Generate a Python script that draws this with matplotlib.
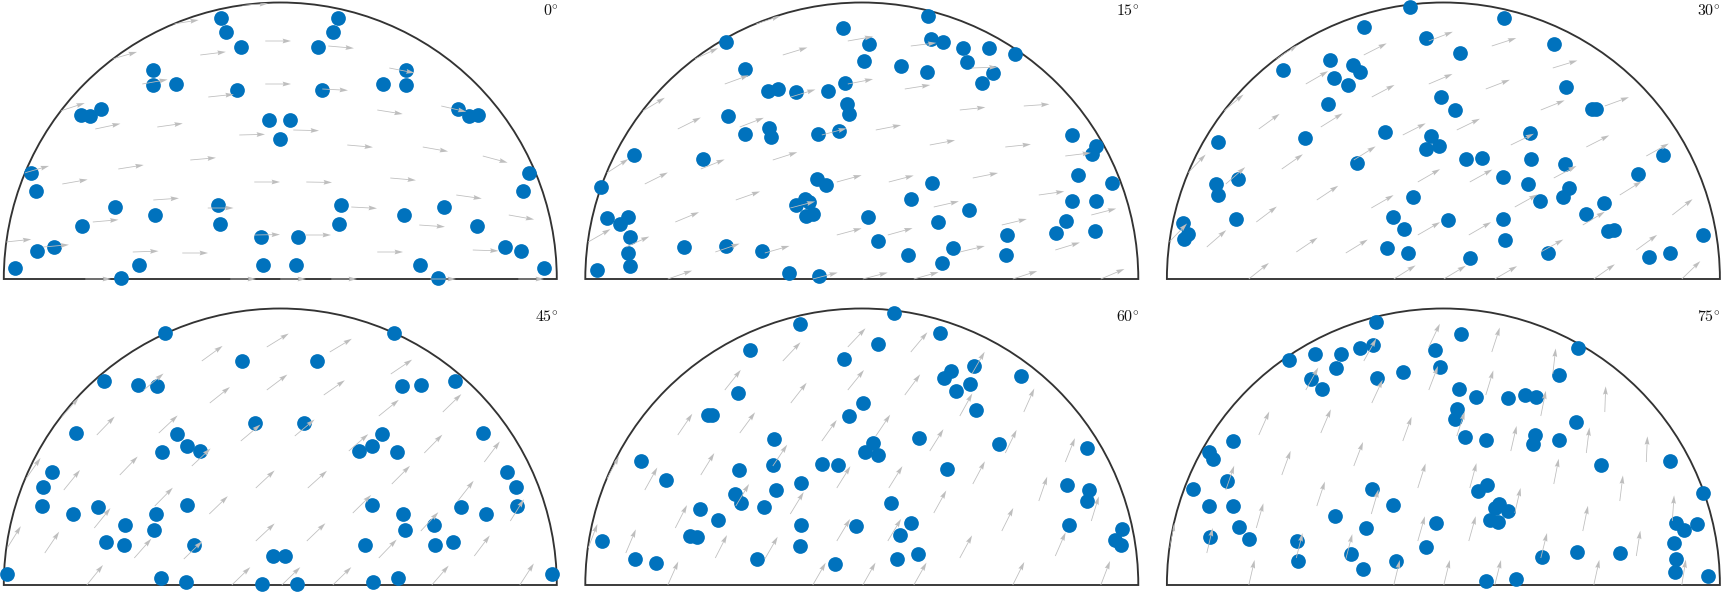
import numpy as np
import matplotlib
matplotlib.use("Agg")
import matplotlib.pyplot as plt
from matplotlib.patches import Wedge, PathPatch
from matplotlib.path import Path

plt.rcParams['mathtext.fontset'] = 'cm'

panel_labels = [r'$0^{\circ}$', r'$15^{\circ}$', r'$30^{\circ}$',
                r'$45^{\circ}$', r'$60^{\circ}$', r'$75^{\circ}$']

tail_x = [-193, -48, 2, 53, 152, 240, -145.5, -96, 99, 194.5, -235, -272.6, -24, 27, 141, -185.5, 230.5,
          -70.5, 73, 178, -125, 112, 28, -24, -216, -160, -88, -254, 69, 144.5, 204.5, -39, 15, -121, -183,
          -218, 99, 163, -70, -13, 44, -136, 111, -78, 50, -13, -166, -105, -36]
tail_y = [0, 0, 0, 0, 0, 0, 27, 26, 27, 29, 32, 37, 44, 44, 54, 57, 64,
          71, 72, 84, 79, 101, 97, 97, 95, 110, 119, 106, 134, 132, 123, 144, 149, 152, 150,
          168, 169, 173, 182, 195, 190, 195, 211, 224, 233, 238, 220, 255, 274]
nan = float('nan')
angles_0 = [0, 0, 0, 0, 0, 0, 2, 0, 0, -2, 5, 6, 1, 0, -4, 5, -10,
            0, -3, -8, 4, -5, -1, 0, 10, 9, 5, 16, -5, -10, -15, 1.5, -1.5, 8, 12,
            18, -9, -13, 6, 0, -3, 10, -11, 7, -5, 0, 16, 9, 3]
angles_15 = [19, 14.5, 14.5, 15.5, 18, 23, 19, 16, 13.5, 17, 24, 30, 15, 15.5, 13.5, 22.5, 14.5,
             14.8, 12.8, 8, 19.4, 11.3, 14.6, 15.3, 26.6, 21.8, 17.7, 33, 10.6, 6, 7, 15, 11, 21, 26.6,
             31, 6, 4, 17, 11, 9, 20, 2, 17, 7, 10, 25, 18, nan]
angles_30 = [38.6, 32, 31, 30, 35, 44, 34, 31.5, 29, 36, 41, 46, 30, 30, 31, 37, 38,
             30, 29, 32, 33.6, 28, 29, 30, 41, 35, 32, 46, 26, 27, 29, 27, 26, 32, 36,
             40, 22, 20, 28, 23, 21, 30, 17, 27, 18, 21, 32.5, nan, nan]
angles_45 = [51, 44, 44, 44, 49, 57, 48.6, 44, 46, 53, 56, 58, 43, 43.7, 47, 51, 58,
             44, 44.5, 52, 45.5, 45, 42, 43, 51, 46, 43, 55, 41, 45.5, 53, 40, 40, 43, 46,
             49, 39, 44, 38.5, 37, 35, 40, 34, 36, 31, 31.6, nan, nan, nan]
angles_60 = [66, 60, 60.5, 60.5, 63.5, 69, 63, 60, 61.5, 66.4, 67, 69, 59, 59, 63.5, 63, 73,
             58.6, 61, 71, 59, 62, 58, 58, 61, 58.4, 56, 62, 58, 64, 68, 54.6, 56, 53.6, 55.7,
             nan, 61, 66, 52, 51, 53.4, 51.5, 60, 46.6, 50, 46.6, nan, nan, nan]
angles_75 = [77, 76.4, 76.4, 76, 77.6, 81, 76, 75.4, 76, 81, 76.7, 78, 74, 74.4, 78.4, 74, 86,
             73.7, 77, 83, 71.7, 79, 75, 72.4, 71, 70, 69, nan, 77, 83, 87.5, 70, 72, 67, 66,
             nan, 78.7, 88, 65, 69, 73, 61, 83.5, 61, 72, 64.6, nan, nan, nan]
arrow_angles = [angles_0, angles_15, angles_30, angles_45, angles_60, angles_75]
arrow_length = 25.7

x0 = [-59, -54, -39, 58, 53, 38, -127, -127, -104, 126, 126, 103, -43, 42, -199, -190, -179, 178, 189, 198,
      -11, 10, 0, -249, -244, 243, 249, -165, -125, -62, -60, -198, -19, 18, 61, 59, 124, 164, 197, -243, -226,
      225, 241, -265, -159, -141, -17, 16, 140, 158, 264]
y0 = [261, 247, 232, 261, 247, 232, 209, 194, 195, 209, 194, 195, 189, 189, 164, 163, 170, 170, 163, 164,
      159, 159, 140, 106, 88, 88, 106, 72, 64, 74, 55, 53, 42, 42, 74, 55, 64, 72, 53, 28, 32,
      32, 28, 11, 1, 14, 14, 14, 14, 1, 11]
x15 = [67.5, -17.5, -134.5, 8.5, 70.5, 82.5, 102.5, 128.5, 154.5, 3.5, 40.5, 66.5, 106.5, 132.5, 121.5, -115.5,
       -92.5, -82.5, -64.5, -32.5, -15.5, -13.5, -11.5, -132.5, -91.5, -89.5, -115.5, -42.5, -21.5, -226.5, -157.5,
       -259.5, -43.5, -34.5, 71.5, 50.5, 108.5, 7.5, 77.5, -64.5, -55.5, -52, -55, -48, -253.5, -240.5, -232.5,
       -230.5, -232.5, -176.5, -134.5, -98.5, 17.5, 47.5, 92.5, 146.5, 145.5, -264, -231, -72, -42, 81,
       195, 205, 234, 211, 235, 211, 231, 235, 217, 251]
y15 = [263, 251, 237, 235, 240, 237, 231, 231, 225, 218, 213, 207, 217, 206, 196, 210,
       188, 190, 187, 188, 196, 175, 165, 163, 151, 142, 145, 145, 148, 124, 120,
       92, 100, 94, 96, 80, 69, 62, 57, 74, 80, 77, 63, 65, 61, 55, 62,
       42, 26, 32, 33, 28, 38, 24, 31, 44, 24, 9, 13, 6, 3, 16,
       46, 58, 48, 78, 78, 144, 125, 133, 104, 96]
x30 = [-32, -78, 62, -16, 18, 112, -159, -112, -89, -82, -108, -94, -114, -1, 13, 124, 150, 154, -224, -137,
       -57, 88, -11, -3, -16, 221, -85, 24, 40, 89, 123, -204, -226, -224, 61, 196, 86, 127, 121, -29, 98, 162,
       -206, -49, 6, 61, 144, -38, 166, 172, 261, -259, -254, -258, 63, -55, -34, 28, 106, 207, 228]
y30 = [272, 252, 261, 241, 226, 235, 209, 219, 214, 207, 201, 194, 175, 182, 169, 192, 170, 170, 137, 141,
       147, 146, 143, 133, 130, 124, 116, 120, 121, 120, 115, 100, 95, 84, 102, 105, 95, 91, 82, 82, 78, 76,
       60, 62, 59, 60, 65, 50, 48, 49, 44, 56, 45, 40, 39, 31, 26, 21, 26, 22, 26]
x45 = [-115, 114, -38, 37, -176, -142, -123, 122, 141, 175, -204, 203, -25, 24, -103, -93, -80, -118, 102, 92, 79,
       117, -228, -237, 227, 236, -238, 237, -207, -182, -93, 92, -124, 123, 181, 206, -155, -126, 154, 125,
       -174, -156, -86, -273, -119, -94, -18, 17, -7, 5.5, 85, 93, 118, 155, 173, 272]
y45 = [252, 252, 224, 224, 204, 200, 199, 199, 200, 204, 152, 152, 162, 162, 151, 139, 134, 133, 151, 139, 134,
       133, 113, 98, 113, 98, 79, 79, 71, 78, 80, 80, 71, 71, 78, 71, 60, 55, 60, 55,
       43, 40, 40, 11, 7, 3, 1, 1, 29, 29, 40, 3, 7, 40, 43, 11]
x60 = [33.5, -60.5, 79.5, -110.5, 17.5, -16.5, 113.5, 90.5, 83.5, 109.5, 95.5, 160.5, -122.5, 2.5, -11.5, 115.5,
       -152.5, -148.5, -86.5, 58.5, 138.5, 12.5, 4.5, 17.5, -87.5, -38.5, -22.5, -219.5, -121.5, -194.5, 86.5, -59.5,
       -84.5, -125.5, -119.5, -96.5, 30.5, -160.5, -142.5, -59.5, -4.5, 50.5, 39.5, -259, -226, -205, -170.5, -164,
       -104, -61, -26, 36, 57, 208, 261, 254, 260, 228, 226, 206, 226]
y60 = [272, 261, 252, 235, 241, 226, 219, 214, 207, 201, 194, 209, 192, 182, 169, 175,
       170, 170, 146, 147, 141, 142, 133, 130, 120, 121, 120, 124, 115, 105, 116, 102,
       95, 91, 82, 78, 82, 76, 65, 60, 59, 62, 50, 44, 26, 22, 49, 48,
       26, 39, 21, 26, 31, 60, 56, 45, 40, 95, 84, 100, 137]
x75 = [-66, -153, -127, -101, -82, -69, -105.5, -131, -120, -65, -39, 19, -7, -2, 136, 117, 17, 34, 66, 83.5, 94,
       15, 13, 134, 23, 44, 93, 91, 117, -209, -233, -229, -215, -249, 228, 159, -70, 261, -233, -209, -49, 36, 45,
       57, 53, 66, 48, 56, -107, -76, -6, -203, -232, -193, -145, -144, -91, -79, -46, -16, 100, 135, 178, 234, 242,
       255, 232, 234, 233, 266, 44, 74]
y75 = [263, 225, 231, 231, 237, 240, 217, 206, 196, 207, 213, 251, 235, 218, 237, 210, 196, 188, 187, 190, 188,
       176, 166, 163, 148, 145, 150, 141, 145, 144, 133, 126, 104, 96, 124, 120, 96, 92, 79, 79, 80, 94, 100,
       81, 77, 74, 65, 63, 69, 57, 62, 58, 48, 46, 44, 24, 31, 16, 24, 38, 28, 33, 32, 62, 55,
       61, 42, 26, 13, 9, 4, 6]
marker_x = [x0, x15, x30, x45, x60, x75]
marker_y = [y0, y15, y30, y45, y60, y75]

BLUE = '#0072BD'
ARROW = '#bebebe'
RIM = '#333333'
R = 276.5
W, H = 1722, 592
fig = plt.figure(figsize=(W / 100, H / 100), dpi=100, facecolor='white')

# pixel placement: axes are 581x292 px, one data unit equals one pixel
AW, AH = 581, 292
row_top = [0, 300]
row_ylim = [(-13, 279), (-7, 285)]
XSHIFT = 0.7                     # marks sit slightly left of the nominal centre
rim_offset = [0.5, 1.0, 1.6]     # rim centre per column, relative to the marks
panel_tail_shift = [-1.5, 0, 0, 0, 0, 0]

theta = np.radians(np.linspace(0, 180, 181))

for i in range(6):
    r, c = divmod(i, 3)
    ax = fig.add_axes([c * 581 / W, 1 - (row_top[r] + AH) / H, AW / W, AH / H])
    ax.set_xlim(-280.5 + XSHIFT, 300.5 + XSHIFT)
    ax.set_ylim(*row_ylim[r])
    ax.axis('off')

    cx = rim_offset[c]
    ax.add_patch(Wedge((cx, 0), R, 0, 180, fc='none', ec=RIM, lw=1.35, zorder=2, joinstyle='miter'))

    ax.plot(marker_x[i], marker_y[i], 'o', ms=10.6, mfc=BLUE, mec='none', clip_on=False, zorder=3)

    a = np.radians(np.array(arrow_angles[i], dtype=float))
    keep = np.isfinite(a)
    tx = np.array(tail_x, dtype=float)[keep] + panel_tail_shift[i]
    ty = np.array(tail_y, dtype=float)[keep]
    q = ax.quiver(tx, ty, arrow_length * np.cos(a[keep]), arrow_length * np.sin(a[keep]),
                  angles='xy', scale_units='xy', scale=1, units='xy', pivot='tail',
                  width=0.8, headwidth=6.0, headlength=10.5, headaxislength=9.3,
                  color=ARROW, zorder=4, linewidth=0)
    clip_verts = np.vstack([[(cx + R, -3)],
                            np.c_[cx + R * np.cos(theta), R * np.sin(theta)],
                            [(cx - R, -3)], [(cx + R, -3)]])
    clip = PathPatch(Path(clip_verts), fc='none', ec='none', transform=ax.transData)
    ax.add_patch(clip)
    q.set_clip_path(clip)

    ax.text(278.5, row_ylim[r][1] - 3 - (0 if r == 0 else 6), panel_labels[i],
            ha='right', va='top', fontsize=11.5, color='#111111', clip_on=False, zorder=5)

fig.savefig('out.png', dpi=100, facecolor='white')
